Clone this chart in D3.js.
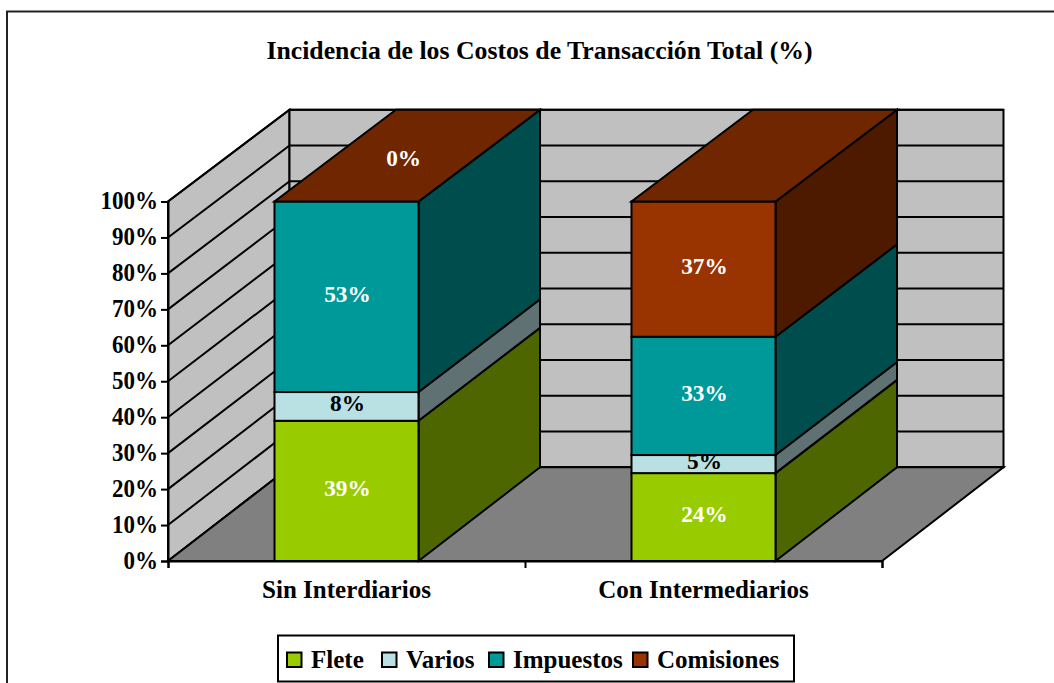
<!DOCTYPE html>
<html>
<head>
<meta charset="utf-8">
<script src="https://cdn.jsdelivr.net/npm/d3@7"></script>
<style>
    html, body { margin: 0; padding: 0; background: #fff; overflow: hidden; }
    svg { display: block; }
    text { font-family: "Liberation Serif", serif; font-weight: bold; fill: #000; }
</style>
</head>
<body>
<div id="chart"></div>
<script>
var titleText = 'Incidencia de los Costos de Transacción Total (%)';
var categories = ['Sin Interdiarios', 'Con Intermediarios'];
var seriesNames = ['Flete', 'Varios', 'Impuestos', 'Comisiones'];
var flete = [39, 24.3];
var varios = [8, 5];
var impuestos = [53, 32.7];
var comisiones = [0, 37.4];
var yTicks = [0, 0.1, 0.2, 0.3, 0.4, 0.5, 0.6, 0.7, 0.8, 0.9, 1];

var frontColors = ['#99cc00', '#b9e0e3', '#009999', '#993300'];
var sideColors = ['#4d6600', '#5f7173', '#004d4d', '#4d1a00'];
var topColor = '#702700';
var labelColors = ['#fff', '#000', '#fff', '#fff'];

var width = 1054, height = 683;
var depthX = 121.5;
var plot = { left: 168, right: 882, top: 201.5, bottom: 561, backTop: 109.8, backBottom: 467.3 };
var lineWidth = 2;

var table = categories.map(function(c, i) {
    return { category: c, Flete: flete[i], Varios: varios[i], Impuestos: impuestos[i], Comisiones: comisiones[i] };
});

var stacked = d3.stack()
    .keys(seriesNames)
    .offset(d3.stackOffsetExpand)(table);

var x = d3.scaleBand()
    .domain(categories)
    .range([plot.left, plot.right]);

var barWidth = x.bandwidth() * 0.4034;
var barLeft = function(category) {
    return x(category) + (x.bandwidth() - barWidth) / 2;
};

var y = d3.scaleLinear()
    .domain([0, 1])
    .range([plot.bottom, plot.top]);

// same share, read on the back wall
var yBack = d3.scaleLinear()
    .domain([0, 1])
    .range([plot.backBottom, plot.backTop]);

var poly = function(points) {
    return 'M' + points.map(function(p) { return p.join(','); }).join('L') + 'Z';
};

// the original type is a little condensed
var condense = function(selection, factor) {
    selection.each(function() {
        this.setAttribute('textLength', this.getComputedTextLength() * factor);
        this.setAttribute('lengthAdjust', 'spacingAndGlyphs');
    });
};

var svg = d3.select('#chart').append('svg')
    .attr('width', width)
    .attr('height', height);

// outer frame runs off the right and bottom of the picture
svg.append('rect')
    .attr('x', 7)
    .attr('y', 11.5)
    .attr('width', width + 20)
    .attr('height', height + 20)
    .attr('fill', '#fff')
    .attr('stroke', '#222')
    .attr('stroke-width', 2);

svg.append('text')
    .attr('x', 539.5)
    .attr('y', 59)
    .attr('text-anchor', 'middle')
    .style('font-size', '26px')
    .text(titleText)
    .call(condense, 0.99);

var canvas = svg.append('g');

// side wall
canvas.append('path')
    .attr('d', poly([
        [plot.left, y(0)], [plot.left, y(1)],
        [plot.left + depthX, yBack(1)], [plot.left + depthX, yBack(0)]
    ]))
    .attr('fill', '#c0c0c0')
    .attr('stroke', '#000')
    .attr('stroke-width', lineWidth);

// back wall
canvas.append('rect')
    .attr('x', plot.left + depthX)
    .attr('y', yBack(1))
    .attr('width', plot.right - plot.left)
    .attr('height', yBack(0) - yBack(1))
    .attr('fill', '#c0c0c0')
    .attr('stroke', '#000')
    .attr('stroke-width', lineWidth);

// gridlines on both walls
var grid = canvas.selectAll('g.grid')
    .data(yTicks)
    .enter()
    .append('g')
    .attr('class', 'grid');

grid.append('line')
    .attr('x1', plot.left)
    .attr('y1', y)
    .attr('x2', plot.left + depthX)
    .attr('y2', yBack)
    .attr('stroke', '#000')
    .attr('stroke-width', lineWidth);

grid.append('line')
    .attr('x1', plot.left + depthX)
    .attr('y1', yBack)
    .attr('x2', plot.right + depthX)
    .attr('y2', yBack)
    .attr('stroke', '#000')
    .attr('stroke-width', lineWidth);

// floor
canvas.append('path')
    .attr('d', poly([
        [plot.left, y(0)], [plot.right, y(0)],
        [plot.right + depthX, yBack(0)], [plot.left + depthX, yBack(0)]
    ]))
    .attr('fill', '#808080')
    .attr('stroke', '#000')
    .attr('stroke-width', lineWidth);

// bars, one column at a time
categories.forEach(function(category, c) {

    var left = barLeft(category);
    var right = left + barWidth;
    var bar = canvas.append('g').attr('class', 'bar');

    stacked.forEach(function(layer, s) {

        var v0 = layer[c][0];
        var v1 = layer[c][1];

        bar.append('path')
            .attr('d', poly([
                [right, y(v0)], [right, y(v1)],
                [right + depthX, yBack(v1)], [right + depthX, yBack(v0)]
            ]))
            .attr('fill', sideColors[s])
            .attr('stroke', '#000')
            .attr('stroke-width', lineWidth);

        bar.append('rect')
            .attr('x', left)
            .attr('y', y(v1))
            .attr('width', barWidth)
            .attr('height', y(v0) - y(v1))
            .attr('fill', frontColors[s])
            .attr('stroke', '#000')
            .attr('stroke-width', lineWidth);
    });

    bar.append('path')
        .attr('d', poly([
            [left, y(1)], [right, y(1)],
            [right + depthX, yBack(1)], [left + depthX, yBack(1)]
        ]))
        .attr('fill', topColor)
        .attr('stroke', '#000')
        .attr('stroke-width', lineWidth);

    stacked.forEach(function(layer, s) {

        var value = table[c][seriesNames[s]];
        var share = (layer[c][0] + layer[c][1]) / 2;

        // a zero segment only has its top face left to carry the label
        if (value === 0) {
            bar.append('text')
                .attr('x', left + barWidth / 2 + depthX * 0.47)
                .attr('y', (y(share) + yBack(share)) / 2 + 10)
                .attr('text-anchor', 'middle')
                .style('font-size', '24px')
                .style('fill', labelColors[s])
                .text(value + '%')
                .call(condense, 0.97);
            return;
        }

        bar.append('text')
            .attr('x', left + barWidth / 2 + 1)
            .attr('y', y(share) + 5)
            .attr('text-anchor', 'middle')
            .style('font-size', '24px')
            .style('fill', labelColors[s])
            .text(Math.round(value) + '%')
            .call(condense, 0.97);
    });
});

// axes
var yAxis = svg.append('g')
    .attr('class', 'axis y-axis')
    .attr('transform', 'translate(' + plot.left + ',0)')
    .call(d3.axisLeft(y)
        .tickValues(yTicks)
        .tickFormat(d3.format('.0%'))
        .tickSize(7)
        .tickPadding(3)
    );

yAxis.selectAll('text')
    .attr('dy', '0.28em')
    .style('font-family', '"Liberation Serif", serif')
    .style('font-size', '25px')
    .call(condense, 0.92);

var tickScale = d3.scaleLinear()
    .domain([0, categories.length])
    .range([plot.left, plot.right]);

svg.append('g')
    .attr('class', 'axis x-axis')
    .attr('transform', 'translate(0,' + plot.bottom + ')')
    .call(d3.axisBottom(tickScale)
        .tickValues(d3.range(categories.length + 1))
        .tickFormat('')
        .tickSize(7)
    );

var xLabels = svg.append('g')
    .attr('class', 'axis x-labels')
    .attr('transform', 'translate(0,' + plot.bottom + ')')
    .call(d3.axisBottom(x).tickSize(0).tickPadding(19));

xLabels.select('.domain').remove();
xLabels.selectAll('text')
    .style('font-family', '"Liberation Serif", serif')
    .style('font-size', '25px');

svg.selectAll('.axis path, .axis line')
    .attr('stroke', '#000')
    .attr('stroke-width', lineWidth);

// legend
var legendBox = { x: 278, y: 635.5, width: 516, height: 46 };
var legendSwatchX = [287, 382, 489, 633];

var legend = svg.append('g').attr('class', 'legend');

legend.append('rect')
    .attr('x', legendBox.x)
    .attr('y', legendBox.y)
    .attr('width', legendBox.width)
    .attr('height', legendBox.height)
    .attr('fill', '#fff')
    .attr('stroke', '#000')
    .attr('stroke-width', lineWidth);

var items = legend.selectAll('g.item')
    .data(seriesNames)
    .enter()
    .append('g')
    .attr('class', 'item')
    .attr('transform', function(d, i) {
        return 'translate(' + legendSwatchX[i] + ',' + (legendBox.y + 17) + ')';
    });

items.append('rect')
    .attr('width', 14.5)
    .attr('height', 14.5)
    .attr('fill', function(d, i) { return frontColors[i]; })
    .attr('stroke', '#000')
    .attr('stroke-width', lineWidth);

items.append('text')
    .attr('x', 24)
    .attr('y', 15)
    .style('font-size', '25px')
    .text(function(d) { return d; });
</script>
</body>
</html>
